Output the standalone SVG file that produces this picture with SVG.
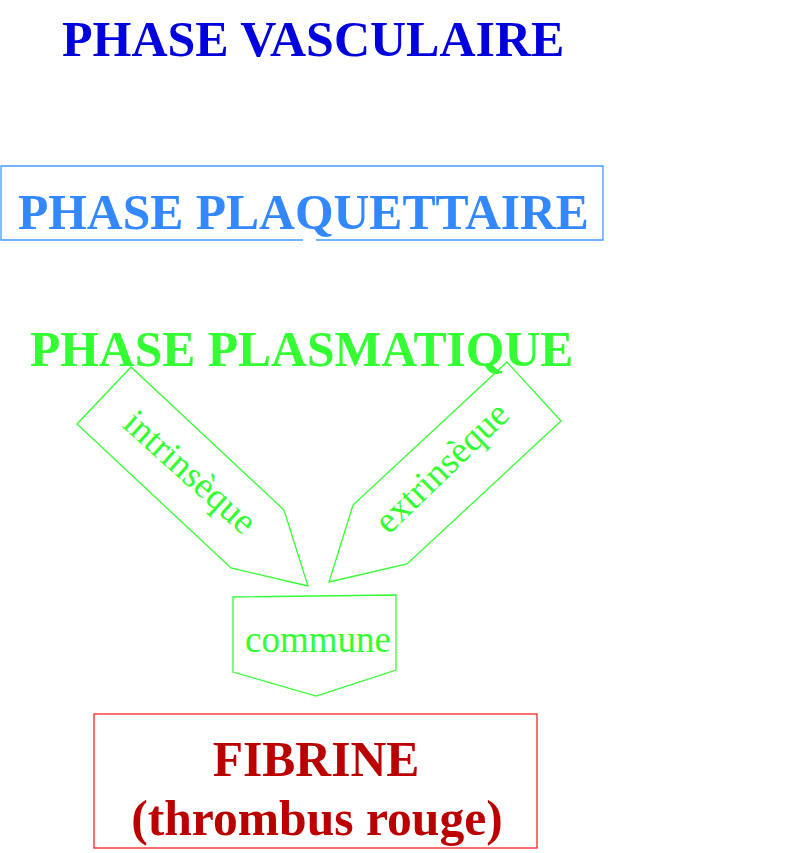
<svg xmlns="http://www.w3.org/2000/svg" width="808" height="853" viewBox="0 0 808 853">
<style>
.t{font-family:"Liberation Serif","Times New Roman",serif;font-weight:bold;font-size:49.6px}
.g{font-family:"Liberation Serif","Times New Roman",serif;font-size:37px;fill:#33ff33}
.ar{fill:none;stroke:#33ff33;stroke-width:1.3}
</style>
<rect width="808" height="853" fill="#ffffff"/>
<g id="vasculaire"><text class="t" x="62" y="56" fill="#0000dd" style="font-size:50px">PHASE VASCULAIRE</text></g>
<g id="plaquettaire">
<path d="M303,240 H1 V166 H603 V240 H316" fill="none" stroke="#4499ff" stroke-width="1.3"/>
<text class="t" x="18" y="229" fill="#3388ff">PHASE PLAQUETTAIRE</text>
</g>
<g id="plasmatique"><text class="t" x="30" y="366" fill="#33ff33">PHASE PLASMATIQUE</text></g>
<g id="connectors">
<g id="intrinseque">
<polygon class="ar" points="77,424 131,367 284,510 308,586 231,568"/>
<text class="g" x="0" y="0" text-anchor="middle" transform="translate(182,481) rotate(42)">intrinsèque</text>
</g>
<g id="extrinseque">
<polygon class="ar" points="507,362 561,421 407,564 329,582 353,505"/>
<text class="g" x="0" y="0" text-anchor="middle" transform="translate(450,476) rotate(-44)">extrinsèque</text>
</g>
<g id="commune">
<polygon class="ar" points="233,597 396,595 396,670 316,696 233,672"/>
<text class="g" x="318" y="652" text-anchor="middle">commune</text>
</g>
</g>
<g id="fibrine">
<rect x="94" y="714" width="443" height="134" fill="none" stroke="#ff2222" stroke-width="1.3"/>
<text class="t" x="316" y="776" text-anchor="middle" fill="#bb0000">FIBRINE</text>
<text class="t" x="317" y="835" text-anchor="middle" fill="#bb0000">(thrombus rouge)</text>
</g>
</svg>
